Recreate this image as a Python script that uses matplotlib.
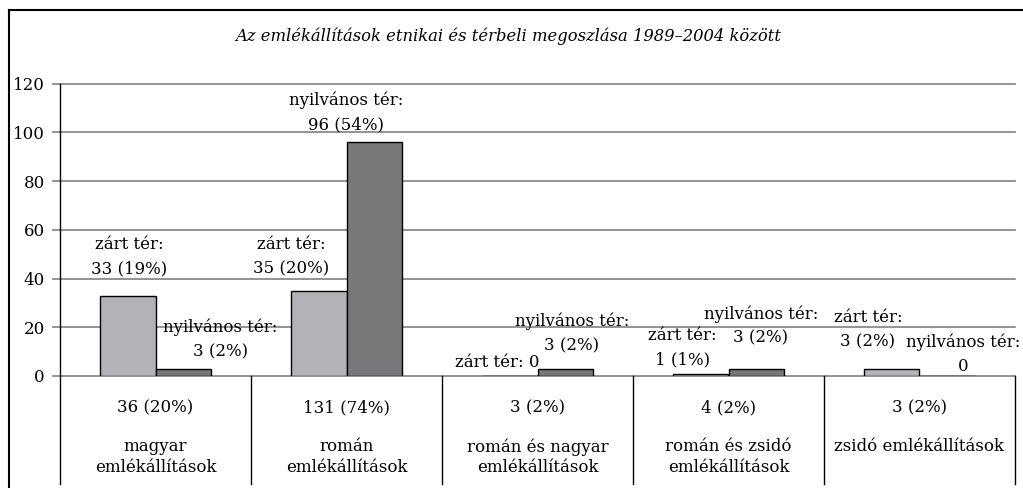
import matplotlib.pyplot as plt

plt.rcParams['font.family'] = 'DejaVu Serif'

# data
categories = ['magyar\nemlékállítások', 'román\nemlékállítások', 'román és nagyar\nemlékállítások',
              'román és zsidó\nemlékállítások', 'zsidó emlékállítások']
zart = [33, 35, 0, 1, 3]
nyilvanos = [3, 96, 3, 3, 0]
zart_pct = [19, 20, 0, 1, 2]
nyilvanos_pct = [2, 54, 2, 2, 0]
totals = [36, 131, 3, 4, 3]
totals_pct = [20, 74, 2, 2, 2]
title = 'Az emlékállítások etnikai és térbeli megoszlása 1989–2004 között'

light = '#b3b3b7'
dark = '#78787a'
grid = '#808080'

fig = plt.figure(figsize=(10.23, 4.88), dpi=100)
W, H = 1023, 488
ax = fig.add_axes([60 / W, (H - 376) / H, 955 / W, (376 - 83.5) / H])
ax.set_xlim(-0.5, 4.5)
ax.set_ylim(0, 120)

bw = 0.288
x = list(range(len(categories)))
ax.bar([i - bw / 2 for i in x], zart, bw, color=light, edgecolor='black', lw=1, zorder=3)
ax.bar([i + bw / 2 for i in x], nyilvanos, bw, color=dark, edgecolor='black', lw=1, zorder=3)

# gridlines with ticks sticking out to the left
for v in range(0, 121, 20):
    ax.plot([-0.535, 4.5], [v, v], color=grid, lw=1.2, clip_on=False, zorder=1)
ax.set_yticks(range(0, 121, 20))
ax.tick_params(axis='y', length=0, labelsize=12, pad=11)
ax.set_xticks([])
for s in ['top', 'right', 'bottom', 'left']:
    ax.spines[s].set_visible(False)

# table-like lines under the axis
for i in range(6):
    ax.plot([i - 0.5, i - 0.5], [-44.5, 120 if i == 0 else 0], color='black', lw=1,
            clip_on=False, zorder=4)

fs = 12
for i in x:
    ax.text(i, -13.1, f'{totals[i]} ({totals_pct[i]}%)', ha='center', va='center', fontsize=fs)
    ax.text(i, -25.6, categories[i], ha='center', va='top', fontsize=fs, linespacing=1.25)

# bar labels (offsets in data units: dx, y of the first line)
zart_pos = [(-0.138, 54), (-0.29, 54), None, (-0.24, 16.5), (-0.27, 24)]
nyil_pos = [(0.34, 20), (0.0, 113), (0.18, 22.5), (0.17, 25.5), (0.23, 14)]
for i in x:
    if zart_pos[i] is not None:
        dx, y0 = zart_pos[i]
        ax.text(i + dx, y0, 'zárt tér:', ha='center', va='center', fontsize=fs)
        lab = f'{zart[i]} ({zart_pct[i]}%)'
        ax.text(i + dx, y0 - 10, lab, ha='center', va='center', fontsize=fs)
    dx, y0 = nyil_pos[i]
    ax.text(i + dx, y0, 'nyilvános tér:', ha='center', va='center', fontsize=fs)
    lab = f'{nyilvanos[i]} ({nyilvanos_pct[i]}%)' if nyilvanos[i] else '0'
    ax.text(i + dx, y0 - 10, lab, ha='center', va='center', fontsize=fs)
ax.text(2 - 0.21, 5.5, f'zárt tér: {zart[2]}', ha='center', va='center', fontsize=fs)

fig.text(508 / W, 1 - 36 / H, title, ha='center', va='center', fontsize=11.8, style='italic')

# outer frame (left and top)
fig.add_artist(plt.Line2D([8.5 / W, 8.5 / W], [0, 1 - 9.5 / H], color='black', lw=1.5))
fig.add_artist(plt.Line2D([8.5 / W, 1], [1 - 9.5 / H, 1 - 9.5 / H], color='black', lw=1.5))

fig.savefig('out.png', dpi=100)
